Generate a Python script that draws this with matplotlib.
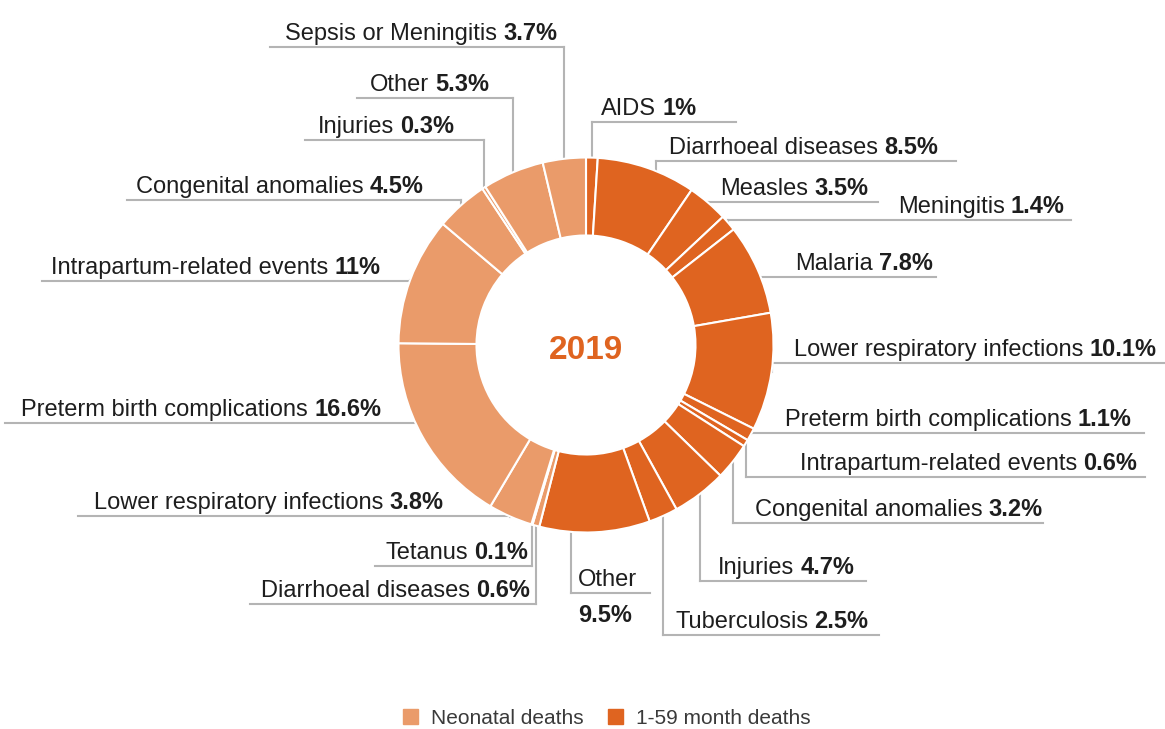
import numpy as np
import matplotlib.pyplot as plt
from matplotlib.patches import Patch

plt.rcParams['font.family'] = ['Liberation Sans', 'DejaVu Sans']

# causes of death, clockwise from 12 o'clock
names = ["AIDS", "Diarrhoeal diseases", "Measles", "Meningitis", "Malaria",
         "Lower respiratory infections", "Preterm birth complications",
         "Intrapartum-related events", "Congenital anomalies", "Injuries",
         "Tuberculosis", "Other",
         "Diarrhoeal diseases", "Tetanus", "Lower respiratory infections",
         "Preterm birth complications", "Intrapartum-related events",
         "Congenital anomalies", "Injuries", "Other", "Sepsis or Meningitis"]
values = [1, 8.5, 3.5, 1.4, 7.8, 10.1, 1.1, 0.6, 3.2, 4.7, 2.5, 9.5,
          0.6, 0.1, 3.8, 16.6, 11, 4.5, 0.3, 5.3, 3.7]
groups = ["1-59 month deaths"] * 12 + ["Neonatal deaths"] * 9
year = "2019"

colors = {"Neonatal deaths": "#EA9B6A", "1-59 month deaths": "#DF6420"}

# label layout (pixels): underline y, text edge x, far end of underline
line_y = [122, 161, 202, 220, 277, 363, 433, 477, 523, 581, 635, 593,
          604, 566, 516, 423, 281, 200, 140, 98, 47]
text_x = [601, 669, 720, 898, 795, 794, 785, 800, 755, 718, 675, 578,
          530, 528, 443, 381, 380, 423, 454, 489, 557]
far_x = [736, 956, 878, 1071, 936, 1165, 1144, 1145, 1043, 866, 879, 650,
         250, 375, 78, 5, 42, 127, 305, 357, 270]
anchor_frac = [0.5] * len(values)
anchor_frac[1] = 0.6
anchor_frac[11] = 0.71
value_below = {11}

cx, cy, R, ring = 586, 345, 187.5, 78
txt_col = "#1e1e1e"
line_col = "#b4b4b4"
fs = 17

fig = plt.figure(figsize=(11.65, 7.29), dpi=100)
ax = fig.add_axes([0, 0, 1, 1])

# y axis is flipped, so counterclockwise in data = clockwise on screen
wedges, _ = ax.pie(values, colors=[colors[g] for g in groups], center=(cx, cy),
                   radius=R, startangle=270, counterclock=True, frame=True,
                   wedgeprops=dict(width=ring, edgecolor="white", linewidth=1.5))
ax.set_xlim(0, 1165)
ax.set_ylim(729, 0)
ax.set_aspect("auto")
ax.axis("off")

ax.text(cx, cy + 14, year, ha="center", va="baseline", fontsize=24,
        fontweight="bold", color=colors["1-59 month deaths"])

renderer = fig.canvas.get_renderer()
inv = ax.transData.inverted()


def xdata(disp_x):
    return inv.transform((disp_x, 0))[0]


cum = np.cumsum([0] + values) / sum(values)
for i, v in enumerate(values):
    frac = cum[i] + anchor_frac[i] * (cum[i + 1] - cum[i])
    th = np.deg2rad(270 + 360 * frac)
    xa, ya = cx + R * np.cos(th), cy + R * np.sin(th)
    ly = line_y[i]
    # leader lines sit under the ring
    ax.plot([xa, xa], [ya, ly], color=line_col, lw=1.5, zorder=0)
    ax.plot([xa, far_x[i]], [ly, ly], color=line_col, lw=1.5, zorder=0)

    val = f"{v:g}%"
    base = ly - 7
    if i in value_below:
        ax.text(text_x[i], base, names[i], ha="left", va="baseline",
                fontsize=fs, color=txt_col)
        ax.text(text_x[i], ly + 29, val, ha="left", va="baseline",
                fontsize=fs, fontweight="bold", color=txt_col)
    elif text_x[i] > xa:
        t = ax.text(text_x[i], base, names[i], ha="left", va="baseline",
                    fontsize=fs, color=txt_col)
        x1 = xdata(t.get_window_extent(renderer).x1)
        ax.text(x1 + 6, base, val, ha="left", va="baseline",
                fontsize=fs, fontweight="bold", color=txt_col)
    else:
        t = ax.text(text_x[i], base, val, ha="right", va="baseline",
                    fontsize=fs, fontweight="bold", color=txt_col)
        x0 = xdata(t.get_window_extent(renderer).x0)
        ax.text(x0 - 6, base, names[i], ha="right", va="baseline",
                fontsize=fs, color=txt_col)

handles = [Patch(color=colors[g]) for g in ["Neonatal deaths", "1-59 month deaths"]]
ax.legend(handles, ["Neonatal deaths", "1-59 month deaths"], ncol=2,
          loc="center", bbox_to_anchor=(0.521, 0.015), frameon=False,
          fontsize=15, labelcolor="#3a3a3a", handlelength=0.72,
          handleheight=0.72, handletextpad=0.6, columnspacing=1.2)

fig.savefig("out.png", dpi=100)
